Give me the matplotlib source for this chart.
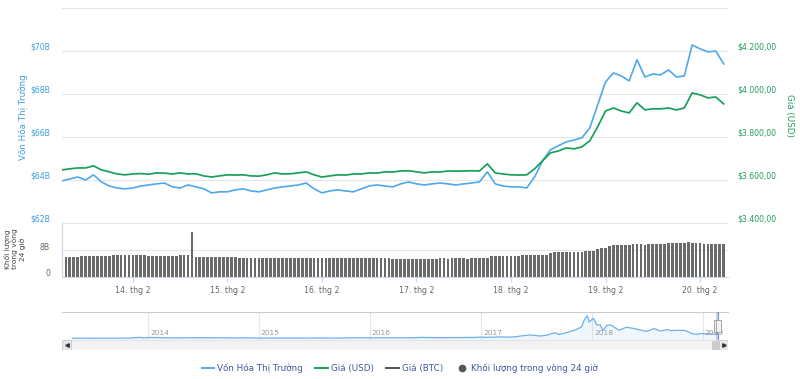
import datetime as dt
import matplotlib
matplotlib.use("Agg")
import matplotlib.pyplot as plt
import matplotlib.dates as mdates
from matplotlib.transforms import ScaledTranslation, blended_transform_factory
from matplotlib.patches import Rectangle
from matplotlib.lines import Line2D
from matplotlib.ticker import FuncFormatter

# ---------------- data ----------------
start_time = dt.datetime(2019, 2, 13, 6)   # first sample, 2-hour steps
step_hours = 2

market_cap_b = [
    63.96, 64.05, 64.14, 64.00, 64.24, 63.91, 63.72, 63.63, 63.59, 63.63, 63.72, 63.77,
    63.82, 63.86, 63.68, 63.63, 63.77, 63.68, 63.59, 63.40, 63.45, 63.45, 63.54, 63.59,
    63.49, 63.45, 63.54, 63.63, 63.68, 63.72, 63.77, 63.86, 63.59, 63.40, 63.49, 63.54,
    63.49, 63.45, 63.59, 63.72, 63.77, 63.72, 63.68, 63.82, 63.91, 63.82, 63.77, 63.82,
    63.86, 63.82, 63.77, 63.82, 63.86, 63.91, 64.38, 63.82, 63.72, 63.68, 63.68, 63.63,
    64.14, 64.89, 65.40, 65.59, 65.77, 65.86, 65.96, 66.42, 67.49, 68.56, 68.98, 68.84,
    68.61, 69.59, 68.79, 68.93, 68.89, 69.12, 68.79, 68.84, 70.28, 70.10, 69.96, 70.00,
    69.40,
]

price_usd = [
    3647, 3652, 3656, 3656, 3666, 3647, 3638, 3628, 3624, 3628, 3630, 3627,
    3633, 3632, 3628, 3633, 3628, 3629, 3619, 3614, 3619, 3624, 3623, 3624,
    3619, 3618, 3624, 3633, 3628, 3629, 3633, 3638, 3624, 3614, 3619, 3624,
    3623, 3628, 3628, 3633, 3632, 3638, 3637, 3642, 3643, 3638, 3633, 3638,
    3637, 3642, 3641, 3642, 3643, 3642, 3675, 3633, 3628, 3624, 3623, 3624,
    3652, 3689, 3726, 3735, 3749, 3745, 3754, 3782, 3847, 3921, 3935, 3921,
    3912, 3959, 3926, 3931, 3931, 3935, 3926, 3935, 4005, 3996, 3982, 3986,
    3954,
]

vol_start_time = dt.datetime(2019, 2, 13, 6)   # hourly columns
volume_b = [
    5.9, 5.9, 5.8, 5.8, 5.9, 6.1, 6.2, 6.2, 6.2, 6.2, 6.2, 6.1, 6.2, 6.4, 6.5, 6.5, 6.6, 6.6, 6.5, 6.5, 6.5, 6.4, 6.2, 6.2,
    6.2, 6.1, 6.1, 6.2, 6.2, 6.3, 6.5, 6.5, 6.6, 13.3, 5.9, 5.9, 5.9, 5.9, 5.9, 5.9, 5.9, 5.8, 5.9, 5.9, 5.8, 5.6, 5.6, 5.6,
    5.6, 5.6, 5.6, 5.5, 5.6, 5.6, 5.6, 5.6, 5.5, 5.5, 5.6, 5.6, 5.6, 5.6, 5.6, 5.5, 5.5, 5.6, 5.6, 5.6, 5.6, 5.6, 5.5, 5.6,
    5.6, 5.5, 5.6, 5.6, 5.6, 5.6, 5.5, 5.6, 5.6, 5.5, 5.5, 5.5, 5.4, 5.4, 5.4, 5.4, 5.2, 5.2, 5.2, 5.3, 5.3, 5.2, 5.3, 5.4,
    5.5, 5.5, 5.4, 5.5, 5.5, 5.5, 5.5, 5.4, 5.5, 5.5, 5.5, 5.5, 5.6, 6.1, 6.2, 6.2, 6.2, 6.2, 6.2, 6.3, 6.3, 6.5, 6.5, 6.5,
    6.5, 6.6, 6.6, 6.6, 7.2, 7.3, 7.3, 7.5, 7.5, 7.5, 7.5, 7.5, 7.5, 7.6, 7.6, 7.6, 8.3, 8.5, 8.6, 9.3, 9.4, 9.5, 9.5, 9.5,
    9.6, 9.7, 9.7, 9.7, 9.6, 9.7, 9.7, 9.7, 9.7, 9.8, 10.0, 10.0, 10.1, 10.2, 10.2, 10.3, 10.2, 10.2, 10.2, 9.8, 9.8, 9.8, 9.7, 9.8,
    9.8,
]

nav_dates = [
    "2013-04-28", "2013-06-01", "2013-07-01", "2013-08-01", "2013-09-01", "2013-10-01", "2013-11-01",
    "2013-11-18", "2013-12-04", "2013-12-18", "2014-01-05", "2014-02-01", "2014-03-01", "2014-04-10",
    "2014-05-01", "2014-06-05", "2014-07-01", "2014-08-01", "2014-09-01", "2014-10-05", "2014-11-12",
    "2014-12-01", "2015-01-14", "2015-02-01", "2015-03-10", "2015-04-15", "2015-05-20", "2015-06-20",
    "2015-07-12", "2015-08-20", "2015-09-20", "2015-11-04", "2015-12-15", "2016-01-15", "2016-02-15",
    "2016-03-15", "2016-04-15", "2016-05-15", "2016-06-17", "2016-07-15", "2016-08-15", "2016-09-15",
    "2016-10-15", "2016-11-15", "2016-12-15", "2017-01-04", "2017-01-12", "2017-02-15", "2017-03-10",
    "2017-03-25", "2017-04-20", "2017-05-25", "2017-06-12", "2017-07-15", "2017-08-05", "2017-09-01",
    "2017-09-15", "2017-10-12", "2017-11-07", "2017-11-28", "2017-12-07", "2017-12-17", "2017-12-22",
    "2018-01-06", "2018-01-17", "2018-01-28", "2018-02-06", "2018-02-20", "2018-03-05", "2018-03-31",
    "2018-04-24", "2018-05-15", "2018-06-29", "2018-07-25", "2018-08-14", "2018-09-05", "2018-09-20",
    "2018-10-15", "2018-11-05", "2018-11-25", "2018-12-15", "2018-12-25", "2019-01-15", "2019-02-08",
    "2019-02-20",
]
nav_cap_b = [
    1.5, 1.4, 1.0, 1.2, 1.6, 1.5, 2.4,
    8.0, 13.5, 6.5, 11.0, 10.0, 7.0, 4.8,
    5.5, 8.3, 8.2, 7.7, 6.3, 4.3, 5.3,
    5.1, 2.4, 3.1, 4.0, 3.1, 3.4, 3.4,
    4.5, 3.4, 3.4, 6.5, 6.6, 6.0, 6.4,
    6.3, 6.6, 7.0, 12.0, 10.3, 9.2, 9.7,
    10.0, 11.3, 12.5, 18.0, 13.0, 16.5, 20.0,
    15.5, 20.5, 40.0, 49.0, 32.0, 45.0, 80.0,
    55.0, 85.0, 120.0, 165.0, 270.0, 326.0, 235.0,
    290.0, 190.0, 195.0, 115.0, 190.0, 190.0, 115.0,
    160.0, 145.0, 100.0, 140.0, 105.0, 125.0, 112.0,
    115.0, 110.0, 68.0, 56.0, 70.0, 64.0, 60.0,
    69.0,
]
nav_years = [2014, 2015, 2016, 2017, 2018, 2019]

cap_ticks = [62, 64, 66, 68, 70]
price_ticks = [3400, 3600, 3800, 4000, 4200]
vol_ticks = [0, 8]

legend_labels = ["Vốn Hóa Thị Trường", "Giá (USD)", "Giá (BTC)", "Khối lượng trong vòng 24 giờ"]

# ---------------- style ----------------
BLUE = "#4fa8ec"
GREEN = "#17a05a"
BLUE_TXT = "#3f9fe0"
GREEN_TXT = "#1f9c5e"
GRID = "#e6e6e6"
AXLINE = "#ccd6eb"
TXT = "#666666"
FS = 5.6

W, H = 800, 379
fig = plt.figure(figsize=(W / 100, H / 100), dpi=100)
fig.patch.set_facecolor("white")


def rect(l, t, r, b):
    return [l / W, 1 - b / H, (r - l) / W, (b - t) / H]


def shift(labels, dx_px, dy_px):
    for lab in labels:
        lab.set_transform(lab.get_transform() +
                          ScaledTranslation(dx_px / 100, dy_px / 100, fig.dpi_scale_trans))


times = [start_time + dt.timedelta(hours=step_hours * i) for i in range(len(market_cap_b))]
vol_times = [vol_start_time + dt.timedelta(hours=i) for i in range(len(volume_b))]
x_left = start_time
x_right = start_time + dt.timedelta(hours=169.1)

# ---------------- main panel ----------------
ax = fig.add_axes(rect(62, 8, 728, 223))
axr = ax.twinx()
ax.plot(times, market_cap_b, color=BLUE, lw=1.2, zorder=3, solid_joinstyle="round")
axr.plot(times, price_usd, color=GREEN, lw=1.25, zorder=3, solid_joinstyle="round")
ax.set_xlim(x_left, x_right)
ax.set_ylim(62, 72)
axr.set_ylim(3400, 4400)
ax.set_yticks(cap_ticks + [72])
ax.set_yticklabels([f"${v}B" for v in cap_ticks] + [""], color=BLUE_TXT, fontsize=FS)
axr.set_yticks(price_ticks)
axr.set_yticklabels(["$" + f"{v:,.2f}".replace(",", "X").replace(".", ",").replace("X", ".")
                     for v in price_ticks], color=GREEN_TXT, fontsize=FS)
ax.yaxis.grid(True, color=GRID, lw=0.8)
ax.set_axisbelow(True)
for a in (ax, axr):
    for s in a.spines.values():
        s.set_visible(False)
    a.tick_params(axis="both", length=0)
ax.tick_params(axis="y", pad=12 * 0.72)
axr.tick_params(axis="y", pad=9 * 0.72)
ax.tick_params(axis="x", labelbottom=False)
shift(ax.get_yticklabels(), 0, 5)
shift(axr.get_yticklabels(), 0, 5)

fig.text(23 / W, 1 - 117 / H, "Vốn Hóa Thị Trường", rotation=90, color=BLUE_TXT,
         fontsize=6.3, ha="center", va="center")
fig.text(790 / W, 1 - 115 / H, "Giá (USD)", rotation=270, color=GREEN_TXT,
         fontsize=6.3, ha="center", va="center")

# ---------------- volume panel ----------------
axv = fig.add_axes(rect(62, 223, 728, 277))
axv.bar(vol_times, volume_b, width=0.7 / 24, color="#6a6a6a", linewidth=0, zorder=2)
axv.set_xlim(x_left, x_right)
axv.set_ylim(0, 16)
axv.set_yticks(vol_ticks + [16])
axv.set_yticklabels(["0", "8B", ""], color=TXT, fontsize=FS)
axv.yaxis.grid(True, color=GRID, lw=0.8)
axv.set_axisbelow(True)
for k in ("top", "right"):
    axv.spines[k].set_visible(False)
for k in ("left", "bottom"):
    axv.spines[k].set_color(AXLINE)
    axv.spines[k].set_linewidth(0.8)
axv.tick_params(axis="y", length=0, pad=12 * 0.72)
shift(axv.get_yticklabels(), 0, 4)
axv.xaxis.set_major_locator(mdates.DayLocator())
axv.xaxis.set_major_formatter(FuncFormatter(lambda x, p: f"{mdates.num2date(x).day}. thg 2"))
axv.tick_params(axis="x", length=5 * 0.72, color=AXLINE, width=0.8, labelsize=FS,
                labelcolor=TXT, pad=3)

fig.text(15 / W, 1 - 249 / H, "Khối lượng\ntrong vòng\n24 giờ", rotation=90, color="#444444",
         fontsize=5.4, ha="center", va="center", multialignment="center", linespacing=1.05)

# ---------------- navigator ----------------
axn = fig.add_axes(rect(62, 312, 728, 340))
nd = [dt.datetime.strptime(d, "%Y-%m-%d") for d in nav_dates]
axn.plot(nd, nav_cap_b, color="#6cb0ec", lw=0.9, zorder=3)
axn.fill_between(nd, nav_cap_b, -25, color="#7cb5ec", alpha=0.12, lw=0, zorder=2)
yr0 = dt.datetime(2014, 1, 1)
axn.set_xlim(yr0 - dt.timedelta(days=86 / 111 * 365.25), yr0 + dt.timedelta(days=580 / 111 * 365.25))
axn.set_ylim(-25, 380)
axn.set_yticks([])
axn.set_xticks([])
for k in ("left", "right", "bottom"):
    axn.spines[k].set_visible(False)
axn.spines["top"].set_color("#cccccc")
axn.spines["top"].set_linewidth(0.8)
bt = blended_transform_factory(axn.transData, axn.transAxes)
for y in nav_years:
    d = dt.datetime(y, 1, 1)
    axn.axvline(d, color=GRID, lw=0.8, zorder=1)
    axn.text(d, 0.25, str(y), transform=bt + ScaledTranslation(2 / 100, 0, fig.dpi_scale_trans),
             fontsize=5.4, color="#999999", ha="left", va="center", zorder=4)
# selected range (last week) + handles
sel0 = dt.datetime(2019, 2, 13)
sel1 = dt.datetime(2019, 2, 20)
axn.axvspan(sel0, sel1, color="#6685c2", alpha=0.35, lw=0, zorder=4)
axn.axvline(sel1, color="#7f9bd0", lw=0.9, zorder=4)
for d in (sel0, sel1):
    axn.add_patch(Rectangle((mdates.date2num(d) - 8, 0.3), 16, 0.4, transform=bt,
                            facecolor="#f2f2f2", edgecolor="#999999", lw=0.6, zorder=5))

# ---------------- scrollbar ----------------
axs = fig.add_axes(rect(62, 340, 728, 350))
axs.set_xlim(0, 666)
axs.set_ylim(0, 10)
axs.axis("off")
axs.add_patch(Rectangle((0, 0), 666, 10, facecolor="#f2f2f2", edgecolor="#e0e0e0", lw=0.6))
axs.add_patch(Rectangle((0, 0), 9, 10, facecolor="#e6e6e6", edgecolor="#cccccc", lw=0.6))
axs.add_patch(Rectangle((657, 0), 9, 10, facecolor="#e6e6e6", edgecolor="#cccccc", lw=0.6))
axs.add_patch(Rectangle((650, 0.5), 7, 9, facecolor="#cccccc", edgecolor="#cccccc", lw=0.6))
axs.plot([4.5], [5], marker="<", markersize=2.5, color="#333333")
axs.plot([661.5], [5], marker=">", markersize=2.5, color="#333333")

# ---------------- legend ----------------
handles = [
    Line2D([0], [0], color=BLUE, lw=1.4),
    Line2D([0], [0], color=GREEN, lw=1.4),
    Line2D([0], [0], color="#555555", lw=1.4),
    Line2D([0], [0], marker="o", color="none", markerfacecolor="#555555",
           markeredgecolor="#555555", markersize=4.5, lw=0),
]
fig.legend(handles, legend_labels, loc="center", bbox_to_anchor=(400 / W, 1 - 368 / H),
           ncol=4, frameon=False, fontsize=6.3, labelcolor="#3d5a9c", handlelength=1.4,
           handletextpad=0.4, columnspacing=1.4)

fig.savefig("out.png", dpi=100, facecolor="white")
